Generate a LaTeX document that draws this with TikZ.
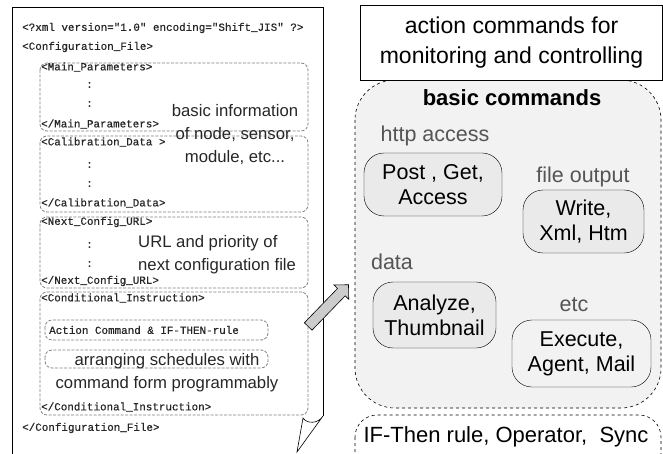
\documentclass[tikz,border=0pt]{standalone}
\usepackage{fontspec}
\setmainfont{Liberation Sans}
\newfontfamily\xmlfont[FakeBold=0.6]{Liberation Mono}
\usetikzlibrary{shapes.arrows}
\definecolor{panelgray}{HTML}{F2F2F2}
\definecolor{cmdgray}{HTML}{EAEAEA}
\definecolor{labelgray}{HTML}{555555}
\begin{document}
\begin{tikzpicture}[x=1pt,y=-1pt,
  xml/.style={anchor=west,inner sep=0pt,text=black!85,font=\xmlfont\fontsize{10.9}{12}\selectfont},
  group/.style={draw=gray,dash pattern=on 3pt off 1.5pt,rounded corners=7pt,line width=0.8pt},
  note/.style={inner sep=0pt,text=black!85,font=\fontsize{16.7}{23}\selectfont},
  cat/.style={inner sep=0pt,text=labelgray,font=\fontsize{21.5}{25}\selectfont},
  cmd/.style={draw,rounded corners=20pt,align=center,inner sep=0pt,font=\fontsize{21.5}{25}\selectfont}]
  \useasboundingbox (0,0) rectangle (663,454);

  \coordinate (p1) at (12,454);
  \coordinate (p2) at (12,7);
  \coordinate (p3) at (323,7);
  \coordinate (p4) at (323,416);
  \coordinate (c1) at (303,418);
  \coordinate (c2) at (297,452);

  \draw[line width=0.8pt] (p1) -- (p2) -- (p3) -- (p4);
  \draw[line width=0.6pt] (p4) .. controls (318,424) and (307,424) .. (c1) -- (c2) -- (p4);

  \node[xml] (head) at (22,28) {<?xml version="1.0" encoding="Shift\_JIS" ?>};
  \node[xml] (cfg) at (22,47) {<Configuration\_File>};

  \draw[group] (40,63) rectangle (308,131);
  \node[xml] (mp1) at (41,67) {<Main\_Parameters>};
  \node[xml] (mpa) at (86,85) {:};
  \node[xml] (mpb) at (86,104) {:};
  \node[xml] (mp2) at (41,124) {</Main\_Parameters>};

  \draw[group] (40,136) rectangle (308,212);
  \node[xml] (cd1) at (41,142) {<Calibration\_Data >};
  \node[xml] (cda) at (86,165) {:};
  \node[xml] (cdb) at (86,184) {:};
  \node[xml] (cd2) at (41,203) {</Calibration\_Data>};

  \node[note,align=center] (basic) at (235,135) {basic information\\of node, sensor,\\module, etc...};

  \draw[group] (40,217) rectangle (308,288);
  \node[xml] (nc1) at (41,222) {<Next\_Config\_URL>};
  \node[xml] (nca) at (86,245) {:};
  \node[xml] (ncb) at (86,264) {:};
  \node[xml] (nc2) at (41,281) {</Next\_Config\_URL>};
  \node[note,align=left,anchor=west] (url) at (138,255) {URL and priority of\\next configuration file};

  \draw[group] (40,292) rectangle (308,415);
  \node[xml] (ci1) at (41,298) {<Conditional\_Instruction>};
  \draw[group] (45,320) rectangle (268,340);
  \node[xml] (act) at (49,330) {Action Command \& IF-THEN-rule};
  \draw[group] (45,350) rectangle (268,368);
  \node[note,align=center] (sched) at (167,373) {arranging schedules with\\command form programmably};
  \node[xml] (ci2) at (41,407) {</Conditional\_Instruction>};

  \node[xml] (cfg2) at (22,428) {</Configuration\_File>};

  \node[single arrow,draw,fill=gray!40,line width=0.6pt,rotate=46,
    minimum height=58pt,inner xsep=0pt,inner ysep=5pt,single arrow head extend=5pt,
    single arrow head indent=0pt] (go) at (326.5,307.5) {};

  \draw[dashed,line width=0.6pt,fill=panelgray,rounded corners=40pt]
    (355,80) rectangle (661,408);
  \node[draw,fill=white,line width=0.8pt,minimum width=302pt,minimum height=75pt,
    align=center,inner sep=0pt,font=\fontsize{23}{30}\selectfont] (title) at (511.5,42.5)
    {action commands for\\monitoring and controlling};
  \node[inner sep=0pt,font=\bfseries\fontsize{22}{26}\selectfont] (basiccmd) at (512,98) {basic commands};

  \node[cat] (http) at (435,136) {http access};
  \node[cmd,fill=cmdgray,minimum width=138pt,minimum height=63pt] (post) at (433,184.5) {Post , Get,\\Access};
  \node[cat] (fileout) at (583,177) {file output};
  \node[cmd,fill=cmdgray,minimum width=121pt,minimum height=63pt] (write) at (583.5,221.5) {Write,\\Xml, Htm};
  \node[cat] (data) at (392,262) {data};
  \node[cmd,fill=cmdgray,minimum width=123pt,minimum height=66pt] (analyze) at (434.5,315) {Analyze,\\Thumbnail};
  \node[cat] (etc) at (574,305) {etc};
  \node[cmd,minimum width=139pt,minimum height=67pt] (exec) at (581.5,353.5) {Execute,\\Agent, Mail};

  \draw[dashed,line width=0.6pt,rounded corners=22pt] (355,415) rectangle (661,480);
  \node[inner sep=0pt,font=\fontsize{22}{26}\selectfont] (rule) at (506,437) {IF-Then rule, Operator,\ \ Sync};
\end{tikzpicture}
\end{document}
